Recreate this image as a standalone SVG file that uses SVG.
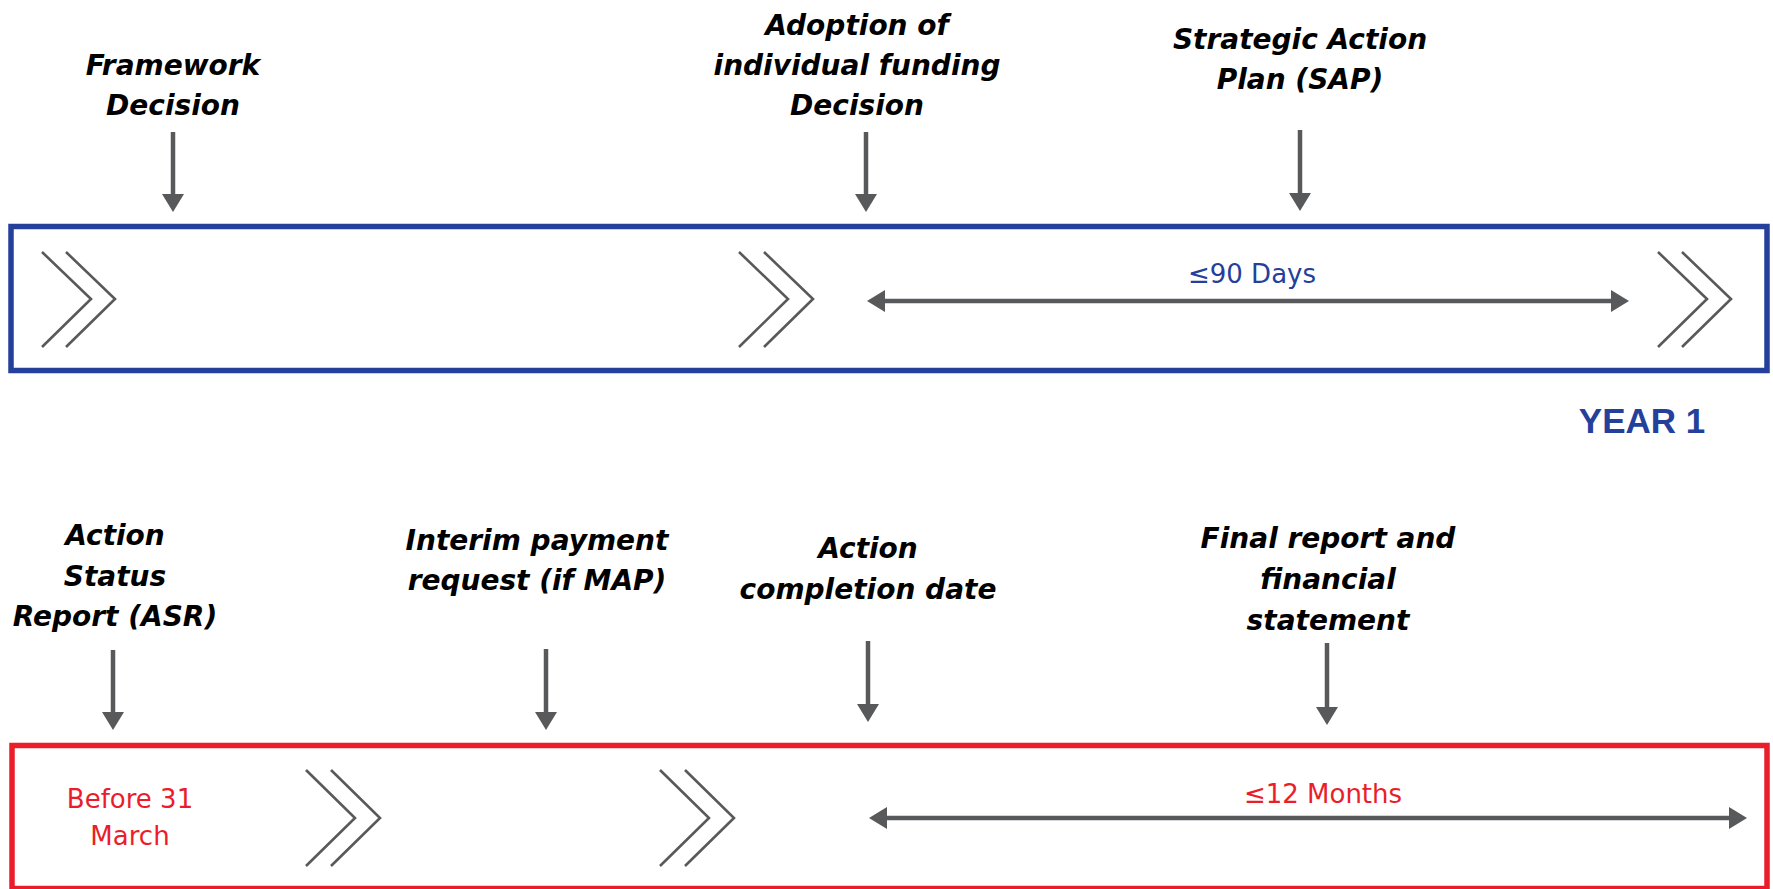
<svg xmlns="http://www.w3.org/2000/svg" width="1773" height="889" viewBox="0 0 1773 889">
<defs>
<style>
.lbl{font-family:"DejaVu Sans","Liberation Sans",sans-serif;font-weight:bold;font-style:oblique;font-size:28px;fill:#000;text-anchor:middle}
.dur{font-family:"DejaVu Sans","Liberation Sans",sans-serif;font-size:26px;text-anchor:middle}
.blue{fill:#24409a}
.red{fill:#e91e2a}
.conn{stroke:#58595b;stroke-width:4.5;fill:none}
.chev{stroke:#58595b;stroke-width:2.6;fill:none}
.year{fill:none;stroke:#24409a;stroke-width:5.5}
.yearred{fill:none;stroke:#e91e2a;stroke-width:5.5}
</style>
<marker id="ah" markerUnits="userSpaceOnUse" markerWidth="18" markerHeight="22" refX="0" refY="11" orient="auto-start-reverse" viewBox="0 0 18 22">
<path d="M0,0 L18,11 L0,22 z" fill="#58595b"/>
</marker>
</defs>
<rect width="1773" height="889" fill="#fff"/>

<g id="year1">
<rect class="year" x="11" y="226.5" width="1756" height="144"/>
<polyline class="chev" points="42,252 91,299 42,347"/>
<polyline class="chev" points="66,252 115,299 66,347"/>
<polyline class="chev" points="739,252 788,299 739,347"/>
<polyline class="chev" points="764,252 813,299 764,347"/>
<polyline class="chev" points="1658,252 1707,299 1658,347"/>
<polyline class="chev" points="1682,252 1731,299 1682,347"/>
<text class="dur blue" x="1252" y="283">≤90 Days</text>
<text x="1642" y="433" font-family="Liberation Sans, Arial, sans-serif" font-weight="bold" font-size="35" fill="#24409a" text-anchor="middle">YEAR 1</text>
</g>

<g id="year2">
<rect class="yearred" x="12" y="745.5" width="1755" height="143"/>
<text class="dur red" x="130" y="808">Before 31</text>
<text class="dur red" x="130" y="845">March</text>
<polyline class="chev" points="306,770 355,818 306,866"/>
<polyline class="chev" points="331,770 380,818 331,866"/>
<polyline class="chev" points="660,770 709,818 660,866"/>
<polyline class="chev" points="685,770 734,818 685,866"/>
<text class="dur red" x="1323" y="803">≤12 Months</text>
</g>

<g id="framework">
<text class="lbl" x="173" y="75">Framework</text>
<text class="lbl" x="173" y="115">Decision</text>
</g>
<g id="adoption">
<text class="lbl" x="857" y="35">Adoption of</text>
<text class="lbl" x="857" y="75">individual funding</text>
<text class="lbl" x="857" y="115">Decision</text>
</g>
<g id="sap">
<text class="lbl" x="1300" y="49">Strategic Action</text>
<text class="lbl" x="1300" y="89">Plan (SAP)</text>
</g>
<g id="asr">
<text class="lbl" x="115" y="545">Action</text>
<text class="lbl" x="115" y="586">Status</text>
<text class="lbl" x="115" y="626">Report (ASR)</text>
</g>
<g id="interim">
<text class="lbl" x="537" y="550">Interim payment</text>
<text class="lbl" x="537" y="590">request (if MAP)</text>
</g>
<g id="completion">
<text class="lbl" x="868" y="558">Action</text>
<text class="lbl" x="868" y="599">completion date</text>
</g>
<g id="final">
<text class="lbl" x="1328" y="548">Final report and</text>
<text class="lbl" x="1328" y="589">financial</text>
<text class="lbl" x="1328" y="630">statement</text>
</g>

<g id="connectors">
<line class="conn" x1="173" y1="132" x2="173" y2="194" marker-end="url(#ah)"/>
<line class="conn" x1="866" y1="132" x2="866" y2="194" marker-end="url(#ah)"/>
<line class="conn" x1="1300" y1="130" x2="1300" y2="193" marker-end="url(#ah)"/>
<line class="conn" x1="885" y1="301" x2="1611" y2="301" marker-start="url(#ah)" marker-end="url(#ah)"/>
<line class="conn" x1="113" y1="650" x2="113" y2="712" marker-end="url(#ah)"/>
<line class="conn" x1="546" y1="649" x2="546" y2="712" marker-end="url(#ah)"/>
<line class="conn" x1="868" y1="641" x2="868" y2="704" marker-end="url(#ah)"/>
<line class="conn" x1="1327" y1="643" x2="1327" y2="707" marker-end="url(#ah)"/>
<line class="conn" x1="887" y1="818" x2="1729" y2="818" marker-start="url(#ah)" marker-end="url(#ah)"/>
</g>
</svg>
